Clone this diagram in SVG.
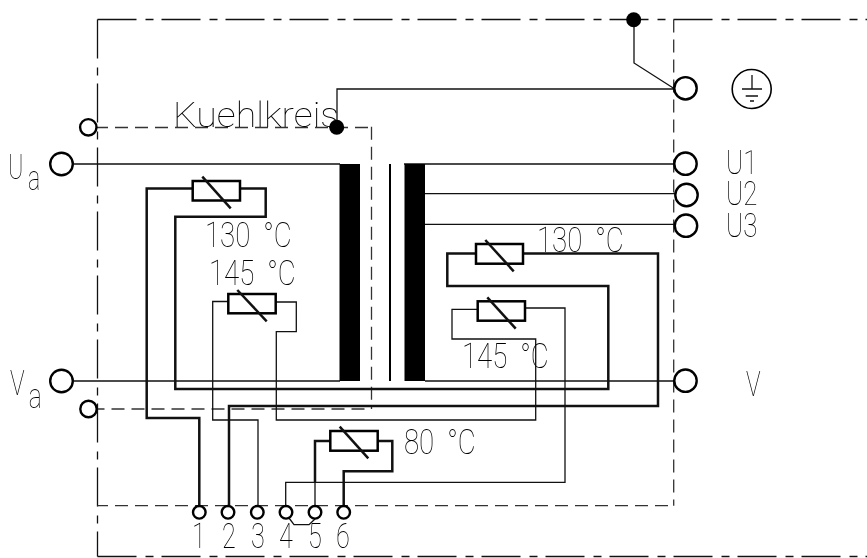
<svg xmlns="http://www.w3.org/2000/svg" width="867" height="558" viewBox="0 0 867 558">
<style>
text{font-family:"Roboto","Liberation Sans",sans-serif;font-weight:100;fill:#000;font-size:35px;filter:grayscale(1)}
.temp{word-spacing:8px}
.lab{font-size:34px}
.frame,.dash,.thin,.thick{fill:none;stroke:#111}
.frame{stroke-width:1.3;stroke-dasharray:39 9 8 8}
.dash{stroke-width:1.3;stroke-dasharray:13 7;stroke:#333}
.thin{stroke-width:1.3}
.thick{stroke-width:2.5}
.term{fill:#fff;stroke:#000;stroke-width:2.4}
.dot{fill:#000}
.res{fill:#fff;stroke:#000;stroke-width:2.5}
.bar{fill:#000}
</style>
<rect width="867" height="558" fill="#fff"/>
<g id="frames">
<path class="frame" d="M97.5 19.5H867"/>
<path class="frame" d="M97.5 19.5V556.5"/>
<path class="frame" d="M97.5 556.5H867"/>
<path class="dash" d="M673.7 19.5V505.7"/>
<path class="dash" stroke-dashoffset="2.5" d="M97.5 505.7H673.7"/>
<path class="dash" stroke-dashoffset="13" d="M88 127.5H371.5"/>
<path class="dash" d="M371.5 126.7V409"/>
<path class="dash" stroke-dashoffset="13" d="M371.5 409H88"/>
</g>
<g id="connectors">
<path class="thin" d="M337 127V89H674M634 20V63L674 88.5"/>
<path class="thin" d="M74 164H340M74 381H340M404 164H674M425 193.7H675M425 224.3H674M425 381H674"/>
<path class="thick" d="M193 188.5H146.7V418H199.3V505M240 188.5H265.7V216.7H175.3V389H608.3V286H447.3V253.5H476M523 253.5H658V406H229V505"/>
<path class="thin" d="M228 301.5H212.7V420H258V505M276 302H296.3V331.7H276.3V420H535.7V339H452V309.3H478M525 308H565V482.3H285.7V505"/>
<path class="thick" d="M330 441H315V482M378 441H392.3V471.3H343.7V505"/>
<path class="thin" d="M315 482V505M289 518L294 524.7H309L315 519"/>
</g>
<g id="transformer">
<rect class="bar" x="339.5" y="164" width="20.5" height="217"/>
<rect class="bar" x="404.5" y="164" width="20.5" height="217"/>
<rect class="bar" x="389" y="164" width="2" height="217"/>
</g>
<g id="r130-left"><rect class="res" x="192.7" y="181" width="47.3" height="19.5"/><path class="thick" d="M202.3 176.7L230.7 208.3"/><text class="temp" transform="translate(205,246.7) scale(.79,1)">130 °C</text></g>
<g id="r145-left"><rect class="res" x="228.3" y="294" width="47.4" height="19.3"/><path class="thick" d="M237.3 290L266.7 321.3"/><text class="temp" transform="translate(209,285) scale(.79,1)">145 °C</text></g>
<g id="r130-right"><rect class="res" x="476" y="244" width="47" height="19.7"/><path class="thick" d="M485.3 240L513.7 271.3"/><text class="temp" transform="translate(537,252.3) scale(.79,1)">130 °C</text></g>
<g id="r145-right"><rect class="res" x="477.7" y="301.3" width="47.3" height="19.4"/><path class="thick" d="M487.3 297.3L515.7 328.7"/><text class="temp" transform="translate(462,367.7) scale(.79,1)">145 °C</text></g>
<g id="r80"><rect class="res" x="330.3" y="431" width="47.4" height="19.7"/><path class="thick" d="M339.7 426.7L368.3 458.3"/><text class="temp" transform="translate(404,454) scale(.79,1)">80 °C</text></g>
<g id="kuehlkreis"><text x="173" y="126.7" textLength="166" lengthAdjust="spacingAndGlyphs">Kuehlkreis</text></g>
<g id="dots"><circle class="dot" cx="336.7" cy="127.3" r="7.5"/><circle class="dot" cx="633.7" cy="19.7" r="7.5"/></g>
<g id="t-ua"><circle class="term" cx="61.5" cy="164" r="11.3"/><text transform="translate(8,179) scale(.66,1)">U<tspan dx="7" dy="11">a</tspan></text></g>
<g id="t-va"><circle class="term" cx="61.5" cy="381" r="11.3"/><text transform="translate(10,395) scale(.7,1)">V<tspan dx="6" dy="13">a</tspan></text></g>
<g id="t-k1"><circle class="term" cx="88.3" cy="127.3" r="8.2"/></g>
<g id="t-k2"><circle class="term" cx="88.5" cy="409" r="8.2"/></g>
<g id="t-pe"><circle class="term" cx="685.5" cy="88.3" r="11.2"/></g>
<g id="t-u1"><circle class="term" cx="685.5" cy="163.7" r="11.2"/><text class="lab" transform="translate(726,173.7) scale(.76,1)">U1</text></g>
<g id="t-u2"><circle class="term" cx="686.5" cy="195" r="11.2"/><text class="lab" transform="translate(726,205) scale(.76,1)">U2</text></g>
<g id="t-u3"><circle class="term" cx="686" cy="225.7" r="11.2"/><text class="lab" transform="translate(726,236.7) scale(.76,1)">U3</text></g>
<g id="t-v"><circle class="term" cx="685.5" cy="380.7" r="11.2"/><text transform="translate(746,395.7) scale(.7,1)">V</text></g>
<g id="earth"><circle cx="751.7" cy="89" r="19.5" fill="none" stroke="#000" stroke-width="1.6"/><path class="thin" d="M752 75V89M742 89H762M745.7 96H758M750 101H754"/></g>
<g id="t1"><circle class="term" cx="199.3" cy="512.3" r="6.3"/><text transform="translate(192,548.3) scale(.72,1)">1</text></g>
<g id="t2"><circle class="term" cx="228" cy="512.3" r="6.3"/><text transform="translate(222,548.3) scale(.72,1)">2</text></g>
<g id="t3"><circle class="term" cx="257.3" cy="512.3" r="6.3"/><text transform="translate(251,548.3) scale(.72,1)">3</text></g>
<g id="t4"><circle class="term" cx="286" cy="512.3" r="6.3"/><text transform="translate(279,548.3) scale(.72,1)">4</text></g>
<g id="t5"><circle class="term" cx="315" cy="512.3" r="6.3"/><text transform="translate(308,548.3) scale(.72,1)">5</text></g>
<g id="t6"><circle class="term" cx="343.7" cy="512.3" r="6.3"/><text transform="translate(336,548.3) scale(.72,1)">6</text></g>
</svg>
